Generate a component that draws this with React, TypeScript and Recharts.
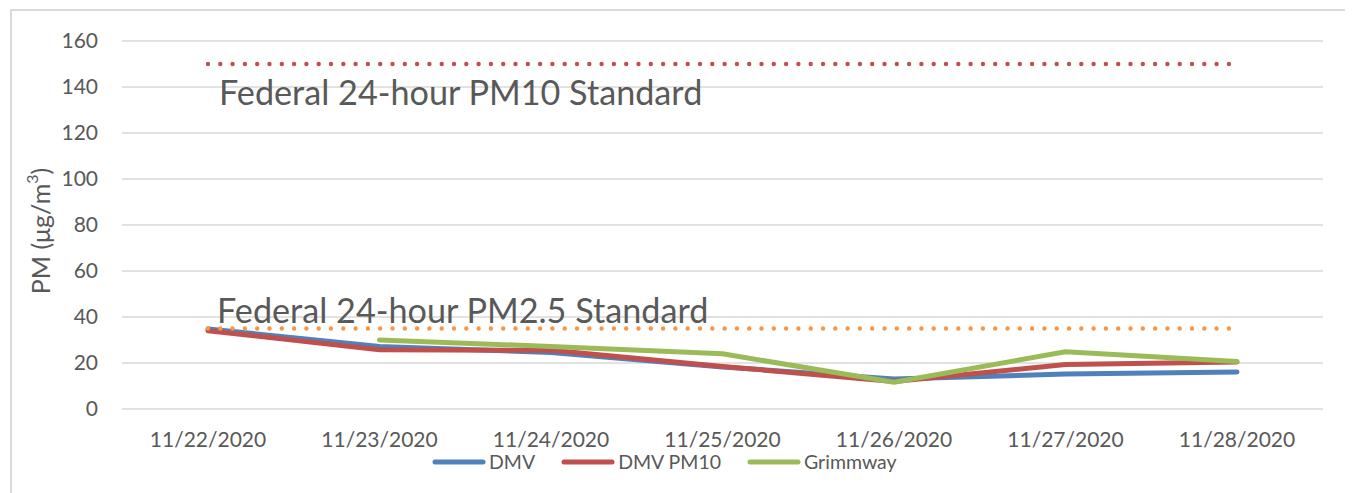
import React from 'react';
import { LineChart, Line, XAxis, YAxis, CartesianGrid, Legend, ReferenceLine } from 'recharts';

const dates = ['11/22/2020', '11/23/2020', '11/24/2020', '11/25/2020', '11/26/2020', '11/27/2020', '11/28/2020'];
const dmv = [34.8, 27.2, 24.6, 18.3, 13, 15.2, 16.1];
const dmvPm10 = [34, 25.8, 25.5, 18.5, 12, 19.3, 20.4];
const grimmway = [null, 30, 27.2, 24, 11.6, 24.9, 20.6];
const pm10Standard = [150, 150, 150, 150, 150, 150, 150];
const pm25Standard = [35, 35, 35, 35, 35, 35, 35];
const yTicks = [0, 20, 40, 60, 80, 100, 120, 140, 160];
const boundaryTicks = [0, 1, 2, 3, 4, 5, 6, 7];

const seriesDefs = [
  { key: 'dmv', name: 'DMV', color: '#4F81BD' },
  { key: 'dmvPm10', name: 'DMV PM10', color: '#C0504D' },
  { key: 'grimmway', name: 'Grimmway', color: '#9BBB59' },
];

const data = dates.map((d, i) => ({
  date: d,
  dmv: dmv[i],
  dmvPm10: dmvPm10[i],
  grimmway: grimmway[i],
  pm10Std: pm10Standard[i],
  pm25Std: pm25Standard[i],
}));

const FONT = 'Lato, "Open Sans", sans-serif';
const TXT = '#595959';
const GRID = '#d9d9d9';

const renderLegend = () => (
  <div style={{ display: 'flex', alignItems: 'center', fontFamily: FONT, fontSize: 19.5, lineHeight: '19px', color: TXT, whiteSpace: 'nowrap' }}>
    {seriesDefs.map((s) => (
      <div key={s.key} style={{ display: 'flex', alignItems: 'center', marginRight: 26 }}>
        <svg width={54} height={10} style={{ display: 'block' }}>
          <line x1={3} x2={51} y1={5} y2={5} stroke={s.color} strokeWidth={5} strokeLinecap="round" />
        </svg>
        <span style={{ marginLeft: 3 }}>{s.name}</span>
      </div>
    ))}
  </div>
);

const annotation = (text: string, dx: number, dy: number) => (props: any) => {
  const vb = props.viewBox || {};
  return (
    <text x={vb.x + dx} y={vb.y + dy} fill={TXT} fontFamily={FONT} fontSize={34.2}>
      {text}
    </text>
  );
};

const yLabel = () => (
  <text
    x={32}
    y={223}
    transform="rotate(-90 32 223)"
    textAnchor="middle"
    dominantBaseline="central"
    fill={TXT}
    fontFamily={FONT}
    fontSize={25}
    style={{ fontSize: 25 }}
  >
    PM (μg/m
    <tspan dy={-9} fontSize={16} style={{ fontSize: 16 }}>3</tspan>
    <tspan dy={9}>)</tspan>
  </text>
);

export default function App() {
  return (
    <div style={{ position: 'relative', width: 1345, height: 485, overflow: 'hidden', background: '#fff' }}>
      <div
        style={{
          position: 'absolute',
          left: 2,
          top: 1,
          width: 1500,
          height: 700,
          border: `2px solid ${GRID}`,
          boxSizing: 'border-box',
        }}
      />
      <LineChart
        width={1345}
        height={485}
        data={data}
        margin={{ top: 33, right: 30, bottom: 24, left: 0 }}
        style={{ position: 'absolute', left: 0, top: 0 }}
      >
        <CartesianGrid horizontal vertical={false} stroke={GRID} strokeWidth={1.3} />
        <XAxis
          xAxisId="bounds"
          type="number"
          domain={[0, 7]}
          ticks={boundaryTicks}
          tick={false}
          tickLine={{ stroke: GRID, strokeWidth: 1.3 }}
          tickSize={6}
          axisLine={{ stroke: GRID, strokeWidth: 1.3 }}
          height={0}
          allowDataOverflow
        />
        <XAxis
          xAxisId="main"
          dataKey="date"
          axisLine={false}
          tickLine={false}
          tickSize={0}
          tickMargin={23}
          height={60}
          interval={0}
          padding={{ left: 86, right: 86 }}
          tick={{ fill: TXT, fontSize: 21, fontFamily: FONT }}
        />
        <YAxis
          domain={[0, 160]}
          ticks={yTicks}
          width={114}
          axisLine={false}
          tickLine={false}
          tickSize={0}
          tickMargin={24}
          tick={{ fill: TXT, fontSize: 21, fontFamily: FONT }}
          label={{ content: yLabel }}
        />
        <ReferenceLine xAxisId="bounds" y={150} stroke="none" label={annotation('Federal 24-hour PM10 Standard', 97, 41)} />
        <ReferenceLine xAxisId="bounds" y={35} stroke="none" label={annotation('Federal 24-hour PM2.5 Standard', 95, -6)} />
        {seriesDefs.map((s) => (
          <Line
            key={s.key}
            xAxisId="main"
            dataKey={s.key}
            name={s.name}
            stroke={s.color}
            strokeWidth={5}
            strokeLinecap="round"
            strokeLinejoin="round"
            dot={false}
            activeDot={false}
            isAnimationActive={false}
          />
        ))}
        <Line xAxisId="main" dataKey="pm10Std" stroke="#C0504D" strokeWidth={4.4} strokeDasharray="0 12.3" strokeLinecap="round" dot={false} activeDot={false} legendType="none" isAnimationActive={false} />
        <Line xAxisId="main" dataKey="pm25Std" stroke="#F79646" strokeWidth={4.4} strokeDasharray="0 12.3" strokeLinecap="round" dot={false} activeDot={false} legendType="none" isAnimationActive={false} />
        <Legend
          layout="horizontal"
          verticalAlign="middle"
          align="center"
          content={renderLegend}
          wrapperStyle={{ top: 444, left: 424, width: 'auto' }}
        />
      </LineChart>
    </div>
  );
}
